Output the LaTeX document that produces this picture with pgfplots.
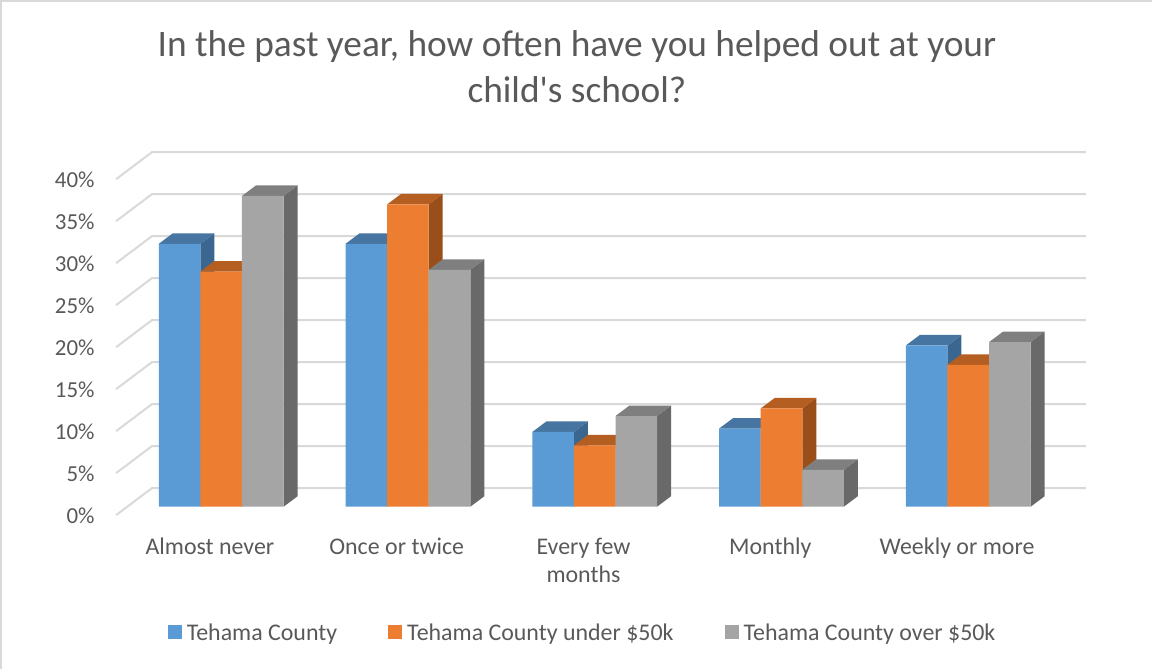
\documentclass[border=0pt]{standalone}
\usepackage{pgfplots}
\pgfplotsset{compat=1.18}
\usepackage{fontspec}
\setmainfont{Carlito}
\newfontfamily\plainfont{Carlito}
\definecolor{txt}{HTML}{595959}
\definecolor{gridc}{HTML}{D9D9D9}
\definecolor{bluef}{HTML}{5B9BD5}
\definecolor{bluet}{HTML}{4675A1}
\definecolor{blues}{HTML}{3B6690}
\definecolor{orangef}{HTML}{ED7D31}
\definecolor{oranget}{HTML}{B45F21}
\definecolor{oranges}{HTML}{9A4F1B}
\definecolor{grayf}{HTML}{A5A5A5}
\definecolor{grayt}{HTML}{7F7F7F}
\definecolor{grays}{HTML}{696969}
\newcommand\barw{0.2227}
\newcommand\dpx{0.07495}
\newcommand\dpy{1.25}
% #1 category position, #2 series offset, #3 value, #4 top colour, #5 side colour
\newcommand\faces[5]{%
  \pgfmathsetmacro\xa{#1+#2*\barw-0.5*\barw}%
  \pgfmathsetmacro\xb{\xa+\barw}%
  \pgfmathsetmacro\xc{\xa+\dpx}%
  \pgfmathsetmacro\xd{\xb+\dpx}%
  \pgfmathsetmacro\yt{#3+\dpy}%
  \addplot[fill=#5,draw=none,forget plot] coordinates {(\xb,0) (\xd,\dpy) (\xd,\yt) (\xb,#3)} -- cycle;
  \addplot[fill=#4,draw=none,forget plot] coordinates {(\xa,#3) (\xb,#3) (\xd,\yt) (\xc,\yt)} -- cycle;
}
\newcommand\wall[1]{%
  \pgfmathsetmacro\yb{#1+2.226}%
  \pgfmathsetmacro\yf{#1-1.0}%
  \addplot[gridc,line width=2pt,forget plot] coordinates {(-0.5626,\yf) (-0.370,\yb) (4.630,\yb)};
}
\begin{document}
\begin{tikzpicture}
\begin{axis}[
  scale only axis,
  width=1152bp, height=669bp,
  xmin=-1.1836, xmax=4.9834,
  ymin=-19.32, ymax=60.32,
  axis line style={draw=none},
  major tick length=0pt,
  xtick={-0.06,0.94,1.94,2.94,3.94},
  xticklabels={Almost never,Once or twice,Every few\\months,Monthly,Weekly or more},
  x tick label style={text=txt,font=\fontsize{24}{28}\selectfont,align=flush center,text width=170bp,anchor=north,yshift=134.5bp},
  ytick={-1.1,3.9,8.9,13.9,18.9,23.9,28.9,33.9,38.9},
  yticklabels={0\%,5\%,10\%,15\%,20\%,25\%,30\%,35\%,40\%},
  y tick label style={text=txt,font=\fontsize{23}{24}\selectfont,anchor=east,xshift=98bp},
  /pgf/number format/assume math mode=true,
  title={In the past year, how often have you helped out at your\\child{\plainfont'}s school?},
  title style={at={(0.5008,1)},anchor=north,yshift=-33bp,align=center,text=txt,font=\fontsize{37.5}{46}\selectfont},
  legend style={at={(0.5057,0.0)},anchor=south,yshift=23bp,draw=none,fill=none,legend columns=3,
    font=\fontsize{24}{24}\selectfont,text=txt,
    /tikz/every odd column/.append style={column sep=3bp},
    /tikz/every even column/.append style={column sep=49bp}},
  legend image code/.code={\fill[#1] (0bp,-6.5bp) rectangle (14bp,7.5bp);},
  legend cell align=left,
]
\addplot[gridc,line width=3pt,forget plot] coordinates {(-1.1836,-19.32) (-1.1836,60.32) (4.9834,60.32)};
\pgfplotsinvokeforeach{0,5,...,40}{\wall{#1}}
% blue
\faces{0}{-1}{31.3}{bluet}{blues}
\faces{1}{-1}{31.3}{bluet}{blues}
\faces{2}{-1}{8.9}{bluet}{blues}
\faces{3}{-1}{9.3}{bluet}{blues}
\faces{4}{-1}{19.2}{bluet}{blues}
\addplot[ybar,bar width=0.2227,bar shift=-0.2227,fill=bluef,draw=none] coordinates {(0,31.3) (1,31.3) (2,8.9) (3,9.3) (4,19.2)};
\addlegendentry{Tehama County}
% orange
\faces{0}{0}{28.0}{oranget}{oranges}
\faces{1}{0}{36.0}{oranget}{oranges}
\faces{2}{0}{7.3}{oranget}{oranges}
\faces{3}{0}{11.7}{oranget}{oranges}
\faces{4}{0}{16.9}{oranget}{oranges}
\addplot[ybar,bar width=0.2227,bar shift=0,fill=orangef,draw=none] coordinates {(0,28.0) (1,36.0) (2,7.3) (3,11.7) (4,16.9)};
\addlegendentry{Tehama County under \$50k}
% gray
\faces{0}{1}{37.0}{grayt}{grays}
\faces{1}{1}{28.2}{grayt}{grays}
\faces{2}{1}{10.8}{grayt}{grays}
\faces{3}{1}{4.4}{grayt}{grays}
\faces{4}{1}{19.6}{grayt}{grays}
\addplot[ybar,bar width=0.2227,bar shift=0.2227,fill=grayf,draw=none] coordinates {(0,37.0) (1,28.2) (2,10.8) (3,4.4) (4,19.6)};
\addlegendentry{Tehama County over \$50k}
\end{axis}
\end{tikzpicture}
\end{document}
